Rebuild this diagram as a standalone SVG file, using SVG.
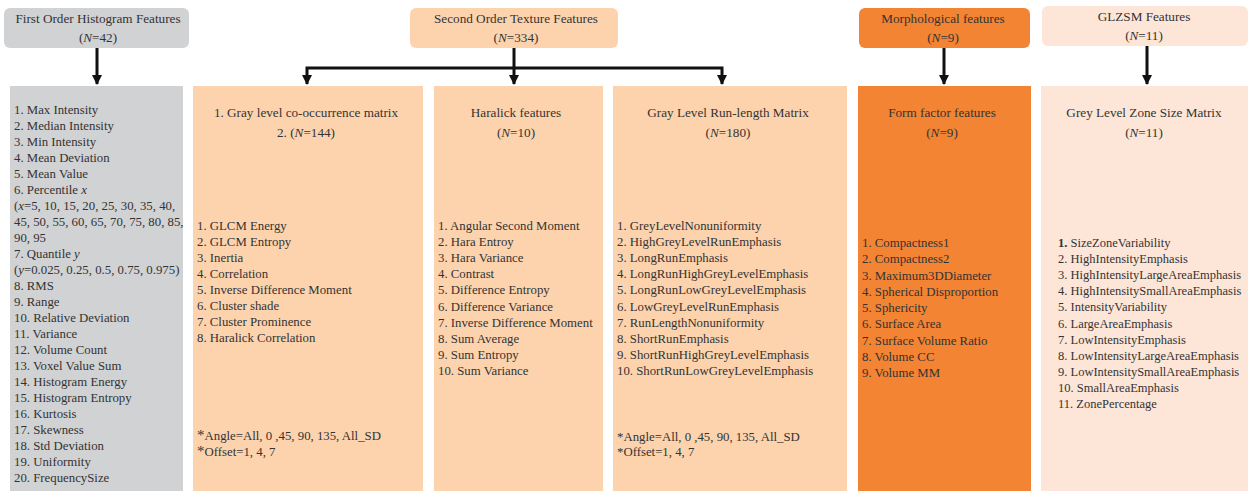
<svg xmlns="http://www.w3.org/2000/svg" width="1250" height="492" viewBox="0 0 1250 492">
<style>
text{font-family:"Liberation Serif","Times New Roman",serif;font-size:12.8px;fill:#333333}
.c{text-anchor:middle;font-size:13.2px}
.s{font-size:12.5px}
.gray{fill:#d1d2d3}
.peach{fill:#fdd3ae}
.orange{fill:#f28433}
.light{fill:#fde6d8}
.conn{stroke:#111111;stroke-width:3;fill:none}
</style>
<defs>
<marker id="ah" viewBox="0 0 10 10" refX="9" refY="5" markerWidth="3.6" markerHeight="3.4" orient="auto" markerUnits="strokeWidth">
<path d="M0,0 L10,5 L0,10 z" fill="#111111"/>
</marker>
</defs>

<g id="hdr-first">
<rect class="gray" x="4" y="8" width="185" height="40" rx="6"/>
<text class="c" x="98" y="23">First Order Histogram Features</text>
<text class="c" x="98" y="42">(<tspan font-style="italic">N</tspan>=42)</text>
</g>
<g id="hdr-second">
<rect class="peach" x="410" y="8" width="208" height="40" rx="6"/>
<text class="c" x="516" y="23">Second Order Texture Features</text>
<text class="c" x="516" y="42">(<tspan font-style="italic">N</tspan>=334)</text>
</g>
<g id="hdr-morph">
<rect class="orange" x="859" y="8" width="171" height="40" rx="6"/>
<text class="c" x="943" y="23">Morphological features</text>
<text class="c" x="943" y="42">(<tspan font-style="italic">N</tspan>=9)</text>
</g>
<g id="hdr-glzsm">
<rect class="light" x="1042" y="6" width="206" height="40" rx="6"/>
<text class="c" x="1144" y="21">GLZSM Features</text>
<text class="c" x="1144" y="40">(<tspan font-style="italic">N</tspan>=11)</text>
</g>

<g id="connectors">
<path class="conn" d="M97,48 V84" marker-end="url(#ah)"/>
<path class="conn" d="M514,48 V84" marker-end="url(#ah)"/>
<path class="conn" d="M514,68 H307 V84" marker-end="url(#ah)"/>
<path class="conn" d="M514,68 H722 V84" marker-end="url(#ah)"/>
<path class="conn" d="M944,48 V84" marker-end="url(#ah)"/>
<path class="conn" d="M1147,46 V84" marker-end="url(#ah)"/>
</g>

<g id="first-order">
<rect class="gray" x="10" y="86" width="173" height="405"/>
<text x="14" y="113.5">1. Max Intensity</text>
<text x="14" y="129.5">2. Median Intensity</text>
<text x="14" y="145.5">3. Min Intensity</text>
<text x="14" y="161.5">4. Mean Deviation</text>
<text x="14" y="177.5">5. Mean Value</text>
<text x="14" y="193.5">6. Percentile <tspan font-style="italic">x</tspan></text>
<text x="14" y="209.5">(<tspan font-style="italic">x</tspan>=5, 10, 15, 20, 25, 30, 35, 40,</text>
<text x="14" y="225.5">45, 50, 55, 60, 65, 70, 75, 80, 85,</text>
<text x="14" y="241.5">90, 95</text>
<text x="14" y="257.5">7. Quantile <tspan font-style="italic">y</tspan></text>
<text x="14" y="273.5">(<tspan font-style="italic">y</tspan>=0.025, 0.25, 0.5, 0.75, 0.975)</text>
<text x="14" y="289.5">8. RMS</text>
<text x="14" y="305.5">9. Range</text>
<text x="14" y="321.5">10. Relative Deviation</text>
<text x="14" y="337.5">11. Variance</text>
<text x="14" y="353.5">12. Volume Count</text>
<text x="14" y="369.5">13. Voxel Value Sum</text>
<text x="14" y="385.5">14. Histogram Energy</text>
<text x="14" y="401.5">15. Histogram Entropy</text>
<text x="14" y="417.5">16. Kurtosis</text>
<text x="14" y="433.5">17. Skewness</text>
<text x="14" y="449.5">18. Std Deviation</text>
<text x="14" y="465.5">19. Uniformity</text>
<text x="14" y="481.5">20. FrequencySize</text>
</g>

<g id="glcm">
<rect class="peach" x="193" y="86" width="230" height="405"/>
<text class="c" x="306" y="117">1. Gray level co-occurrence matrix</text>
<text class="c" x="306" y="137">2. (<tspan font-style="italic">N</tspan>=144)</text>
<text x="197" y="230">1. GLCM Energy</text>
<text x="197" y="246">2. GLCM Entropy</text>
<text x="197" y="262">3. Inertia</text>
<text x="197" y="278">4. Correlation</text>
<text x="197" y="294">5. Inverse Difference Moment</text>
<text x="197" y="310">6. Cluster shade</text>
<text x="197" y="326">7. Cluster Prominence</text>
<text x="197" y="342">8. Haralick Correlation</text>
<text x="197" y="440"><tspan font-size="15">*</tspan>Angle=All, 0 ,45, 90, 135, All_SD</text>
<text x="197" y="456"><tspan font-size="15">*</tspan>Offset=1, 4, 7</text>
</g>

<g id="haralick">
<rect class="peach" x="434" y="86" width="169" height="405"/>
<text class="c" x="516" y="117">Haralick features</text>
<text class="c" x="516" y="137">(<tspan font-style="italic">N</tspan>=10)</text>
<text x="438" y="230">1. Angular Second Moment</text>
<text x="438" y="246.1">2. Hara Entroy</text>
<text x="438" y="262.2">3. Hara Variance</text>
<text x="438" y="278.3">4. Contrast</text>
<text x="438" y="294.4">5. Difference Entropy</text>
<text x="438" y="310.5">6. Difference Variance</text>
<text x="438" y="326.6">7. Inverse Difference Moment</text>
<text x="438" y="342.7">8. Sum Average</text>
<text x="438" y="358.8">9. Sum Entropy</text>
<text x="438" y="374.9">10. Sum Variance</text>
</g>

<g id="glrlm">
<rect class="peach" x="613" y="86" width="234" height="405"/>
<text class="c" x="728" y="117">Gray Level Run-length Matrix</text>
<text class="c" x="728" y="137">(<tspan font-style="italic">N</tspan>=180)</text>
<text x="617" y="230">1. GreyLevelNonuniformity</text>
<text x="617" y="246.1">2. HighGreyLevelRunEmphasis</text>
<text x="617" y="262.2">3. LongRunEmphasis</text>
<text x="617" y="278.3">4. LongRunHighGreyLevelEmphasis</text>
<text x="617" y="294.4">5. LongRunLowGreyLevelEmphasis</text>
<text x="617" y="310.5">6. LowGreyLevelRunEmphasis</text>
<text x="617" y="326.6">7. RunLengthNonuniformity</text>
<text x="617" y="342.7">8. ShortRunEmphasis</text>
<text x="617" y="358.8">9. ShortRunHighGreyLevelEmphasis</text>
<text x="617" y="374.9">10. ShortRunLowGreyLevelEmphasis</text>
<text x="617" y="441">*Angle=All, 0 ,45, 90, 135, All_SD</text>
<text x="617" y="456">*Offset=1, 4, 7</text>
</g>

<g id="form-factor">
<rect class="orange" x="858" y="86" width="173" height="405"/>
<text class="c" x="942" y="117">Form factor features</text>
<text class="c" x="942" y="137">(<tspan font-style="italic">N</tspan>=9)</text>
<text x="862" y="247">1. Compactness1</text>
<text x="862" y="263.25">2. Compactness2</text>
<text x="862" y="279.5">3. Maximum3DDiameter</text>
<text x="862" y="295.75">4. Spherical Disproportion</text>
<text x="862" y="312">5. Sphericity</text>
<text x="862" y="328.25">6. Surface Area</text>
<text x="862" y="344.5">7. Surface Volume Ratio</text>
<text x="862" y="360.75">8. Volume CC</text>
<text x="862" y="377">9. Volume MM</text>
</g>

<g id="glzsm">
<rect class="light" x="1041" y="86" width="207" height="405"/>
<text class="c" x="1144" y="117">Grey Level Zone Size Matrix</text>
<text class="c" x="1144" y="137">(<tspan font-style="italic">N</tspan>=11)</text>
<text class="s" x="1058" y="247"><tspan font-weight="bold">1.</tspan> SizeZoneVariability</text>
<text class="s" x="1058" y="263.1">2. HighIntensityEmphasis</text>
<text class="s" x="1058" y="279.2">3. HighIntensityLargeAreaEmphasis</text>
<text class="s" x="1058" y="295.3">4. HighIntensitySmallAreaEmphasis</text>
<text class="s" x="1058" y="311.4">5. IntensityVariability</text>
<text class="s" x="1058" y="327.5">6. LargeAreaEmphasis</text>
<text class="s" x="1058" y="343.6">7. LowIntensityEmphasis</text>
<text class="s" x="1058" y="359.7">8. LowIntensityLargeAreaEmphasis</text>
<text class="s" x="1058" y="375.8">9. LowIntensitySmallAreaEmphasis</text>
<text class="s" x="1058" y="391.9">10. SmallAreaEmphasis</text>
<text class="s" x="1058" y="408">11. ZonePercentage</text>
</g>
</svg>
